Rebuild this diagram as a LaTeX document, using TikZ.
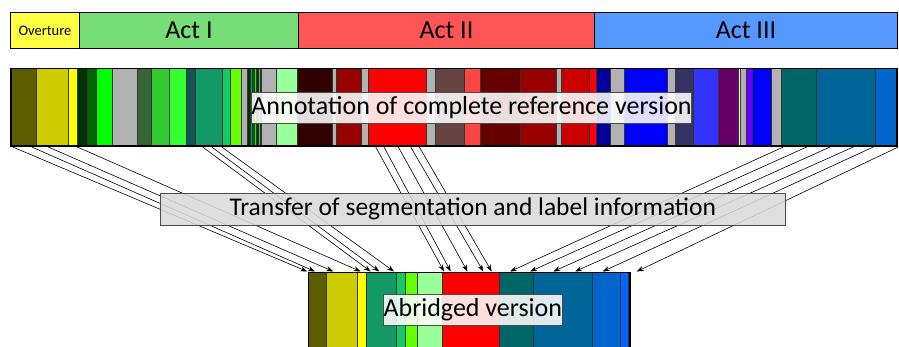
\documentclass[tikz,border=0pt]{standalone}
\usepackage{fontspec}
\setmainfont{Carlito}
\usetikzlibrary{arrows.meta}
\tikzset{
  seg/.style={draw=black!80, line width=0.6pt},
  baredge/.style={draw=black, line width=1.3pt},
  hdr/.style={draw=black, line width=0.9pt, inner sep=0pt, anchor=north west},
  xfer/.style={-{Stealth[length=7pt,width=5pt]}, line width=0.6pt, black},
  lab/.style={draw=black!70, line width=0.6pt, fill=white, fill opacity=0.87, text opacity=1, inner sep=0pt},
  bigtxt/.style={font=\fontsize{26}{28}\selectfont},
}
\begin{document}
\begin{tikzpicture}[x=1pt,y=-1pt]
\useasboundingbox (0,0) rectangle (899,347);
% header
\definecolor{ovc}{HTML}{FFFF44}
\definecolor{aIc}{HTML}{77DD77}
\definecolor{aIIc}{HTML}{FF5555}
\definecolor{aIIIc}{HTML}{5599FF}
\node[hdr, fill=ovc, minimum width=69pt, minimum height=36.5pt, font=\fontsize{14.5}{16}\selectfont] (ov) at (10,12) {Overture};
\node[hdr, fill=aIc, minimum width=219pt, minimum height=36.5pt, bigtxt] (a1) at (79,12) {Act I};
\node[hdr, fill=aIIc, minimum width=296pt, minimum height=36.5pt, bigtxt] (a2) at (298,12) {Act II};
\node[hdr, fill=aIIIc, minimum width=303pt, minimum height=36.5pt, bigtxt] (a3) at (594,12) {Act III};
% top bar
\foreach \a/\b/\c in {
 11/36/5C5C00, 36/68.3/CCCC00, 68.3/77.7/FFFF00, 77.7/87.3/003300, 87.3/96.7/006600,
 96.7/112.7/00FF00, 112.7/137.3/B2B2B2, 137.3/151.7/336633, 151.7/169.3/33CC33,
 169.3/186/33FF33, 186/195.3/115555, 195.3/222.7/139966, 222.7/230.7/11CC66,
 230.7/241.3/66FF00, 241.3/247.3/B2B2B2, 247.3/250/003300, 250/252.5/139966,
 252.5/254.5/006600, 254.5/256.5/00FF00, 256.5/258/003300, 258/259.8/33CC33,
 259.8/261.7/00FF00, 261.7/276/B2B2B2, 276/297.5/99FF99, 297.5/332.7/330000,
 332.7/336.7/B2B2B2, 336.7/361.7/990000, 361.7/368.3/B2B2B2, 368.3/426/FF0000,
 426/435.7/B2B2B2, 435.7/464.3/664444, 464.3/480.7/FF4444, 480.7/520.7/660000,
 520.7/556/990000, 556/561/B2B2B2, 561/589.3/CC0000, 589.3/596.5/FF0000,
 596.5/610/000099, 610/624.7/B2B2B2, 624.7/667.3/0000FF, 667.3/675.3/B2B2B2,
 675.3/693.3/333366, 693.3/718.3/3333FF, 718.3/738.7/660066, 738.7/740.7/FFFFFF,
 740.7/746.7/B2B2B2, 746.7/752.7/6600FF, 752.7/771/0000FF, 771/781/B2B2B2,
 781/816.7/006666, 816.7/875/006699, 875/897/0066CC}{
  \definecolor{tmpc}{HTML}{\c}
  \filldraw[seg, fill=tmpc] (\a,68.3) rectangle (\b,146);
}
\draw[baredge] (11,68.3) rectangle (897,146);
% bottom bar
\foreach \a/\b/\c in {
 308.3/326/5C5C00, 326/357.7/CCCC00, 357.7/366.7/FFFF00, 366.7/396/139966,
 396/405.3/11CC66, 405.3/417.7/66FF00, 417.7/442.3/99FF99, 442.3/499/FF0000,
 499/533.3/006666, 533.3/592/006699, 592/620.7/0066CC, 620.7/628.3/0066FF}{
  \definecolor{tmpc}{HTML}{\c}
  \filldraw[seg, fill=tmpc] (\a,272.3) rectangle (\b,348);
}
\draw[baredge] (308.3,349) -- (308.3,272.3) -- (630,272.3) -- (630,349);
% arrows
\foreach \i/\s/\e in {1/12.7/307.3, 2/31.7/315, 3/48.3/333.3, 4/77.3/360.7,
  5/202.7/370.7, 6/211.7/379.3, 7/221.7/394, 8/375.7/444, 9/384/450.7,
  10/398.3/467.5, 11/410.7/483.3, 12/419.3/491.7, 13/783.3/510, 14/806.7/530,
  15/830/553.3, 16/853.3/575, 17/873.3/602.7, 18/898.3/636.7}{
  \coordinate (s\i) at (\s,147);
  \coordinate (e\i) at (\e,271.5);
  \draw[xfer] (s\i) -- (e\i);
}
% labels
\node[lab, minimum width=437pt, minimum height=31pt, bigtxt] (ann) at (471.5,107.8) {Annotation of complete reference version};
\node[lab, fill=black!15, minimum width=625.7pt, minimum height=31.7pt, font=\fontsize{25.5}{27}\selectfont] (tr) at (472.8,209.2) {Transfer of segmentation and label information};
\node[lab, minimum width=179pt, minimum height=31.4pt, bigtxt] (abr) at (472.8,310) {Abridged version};
\end{tikzpicture}
\end{document}
